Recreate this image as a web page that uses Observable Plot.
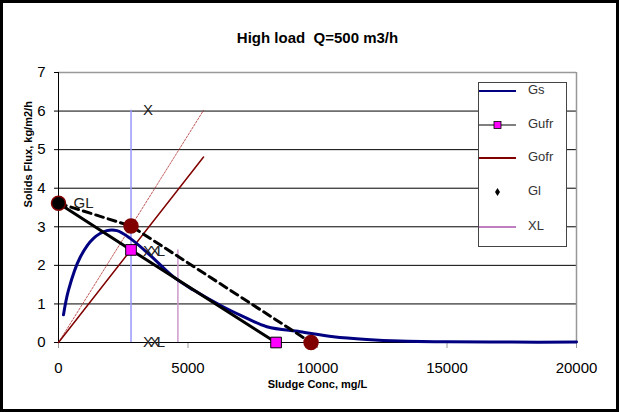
<!DOCTYPE html>
<html><head><meta charset="utf-8">
<script src="https://cdn.jsdelivr.net/npm/d3@7"></script>
<script src="https://cdn.jsdelivr.net/npm/@observablehq/plot@0.6"></script>
<style>
body{margin:0;background:#fff}
#wrap{position:relative;width:619px;height:412px;overflow:hidden;font-family:"Liberation Sans",Arial,sans-serif}
#wrap svg{position:absolute;left:0;top:0}
#frame{position:absolute;left:0;top:0;width:619px;height:412px;box-sizing:border-box;border:3px solid #000;pointer-events:none}
#legend{position:absolute;left:478px;top:82px;width:89px;height:165px;box-sizing:border-box;border:1px solid #444;background:#fff}
.li{position:absolute;left:0;height:16px;width:88px}
.li svg{position:absolute;left:6px;top:0}
.li span{position:absolute;left:49px;top:-1px;font-size:13px;color:#333}
</style></head>
<body><div id="wrap"></div>
<script>
// ---- data ----
const title = "High load  Q=500 m3/h";
const xLabel = "Sludge Conc, mg/L";
const yLabel = "Solids Flux, kg/m2/h";
const xTicks = [0, 5000, 10000, 15000, 20000];
const yTicks = [0, 1, 2, 3, 4, 5, 6, 7];
const gridY = [1, 2, 3, 4, 5, 6];

// Gs: settling flux curve
const gsX = [193, 386, 838, 1351, 1869, 2255, 2768, 3541, 4440, 5212, 6371, 7015, 8046, 9332, 10618, 11907, 13193, 15000, 17500, 20000];
const gsY = [0.72, 1.36, 2.21, 2.70, 2.90, 2.90, 2.70, 2.26, 1.70, 1.36, 0.92, 0.71, 0.41, 0.28, 0.15, 0.08, 0.04, 0.02, 0.01, 0.01];
// Gufr: underflow operating line
const gufrX = [0, 2800, 8400];
const gufrY = [3.61, 2.40, 0];
const gufrMarkX = [2800, 8400];
const gufrMarkY = [2.40, 0];
// Gofr: overflow line
const gofrX = [0, 5600];
const gofrY = [0, 4.81];
// dotted overflow line
const dotX = [0, 5600];
const dotY = [0, 6.02];
// dashed limiting line
const dashX = [0, 2800, 9750];
const dashY = [3.61, 3.02, 0];
const dashMarkX = [2800, 9750];
const dashMarkY = [3.02, 0];
// GL point
const glX = [0];
const glY = [3.61];
// X vertical line
const xLineX = 2800;
const xLineY = [0, 6.02];
// XL vertical line
const xlLineX = 4610;
const xlLineY = [0, 2.40];
// labels ("X" and "XL" overlap in the original; drawn squeezed as one text)
const labelX = [0, 2800, 2800, 2800];
const labelY = [3.61, 6.02, 2.38, 0];
const labelText = ["GL", "X", "XXL", "XXL"];
const labelDx = [15, 12, 12, 12];
const labelSqueeze = [0, 0, 22, 22];

const legendNames = ["Gs", "Gufr", "Gofr", "Gl", "XL"];

const pts = (xs, ys) => xs.map((x, i) => ({x, y: ys[i]}));

const plot = Plot.plot({
  width: 619, height: 412,
  marginLeft: 58, marginRight: 43, marginTop: 72, marginBottom: 70,
  style: {fontFamily: "'Liberation Sans', Arial, sans-serif", fontSize: "15px", background: "transparent", color: "#000"},
  x: {domain: [0, 20000]},
  y: {domain: [0, 7]},
  marks: [
    Plot.ruleY(gridY, {stroke: "#000", strokeWidth: 1}),
    Plot.ruleY([7], {stroke: "#999", strokeWidth: 1.5}),
    Plot.ruleX([20000], {stroke: "#999", strokeWidth: 1.5}),
    Plot.axisY({ticks: yTicks, tickSize: 4, tickPadding: 9, label: null, tickFormat: d => String(d)}),
    Plot.axisX({ticks: xTicks, tickSize: 6, tickPadding: 14, label: null, tickFormat: d => String(d), stroke: "#999"}),
    Plot.ruleY([0], {stroke: "#000", strokeWidth: 1}),
    Plot.ruleX([0], {stroke: "#000", strokeWidth: 1}),
    // vertical lines
    Plot.ruleX([xLineX], {y1: xLineY[0], y2: xLineY[1], stroke: "#9999ff", strokeWidth: 1.5}),
    Plot.ruleX([xlLineX], {y1: xlLineY[0], y2: xlLineY[1], stroke: "#cc99cc", strokeWidth: 1.5}),
    // dotted overflow line
    Plot.line(pts(dotX, dotY), {x: "x", y: "y", stroke: "#b03030", strokeWidth: 0.8, strokeDasharray: "2,1.5"}),
    // Gofr
    Plot.line(pts(gofrX, gofrY), {x: "x", y: "y", stroke: "#800000", strokeWidth: 1.5}),
    // Gs
    Plot.line(pts(gsX, gsY), {x: "x", y: "y", stroke: "#000080", strokeWidth: 3, curve: "catmull-rom"}),
    // Gufr
    Plot.line(pts(gufrX, gufrY), {x: "x", y: "y", stroke: "#000", strokeWidth: 3}),
    // dashed
    Plot.line(pts(dashX, dashY), {x: "x", y: "y", stroke: "#000", strokeWidth: 3, strokeDasharray: "8,5"}),
    Plot.dot(pts(gufrMarkX, gufrMarkY), {x: "x", y: "y", symbol: "square", r: 6, fill: "#ff00ff", stroke: "#000", strokeWidth: 1}),
    Plot.dot(pts(dashMarkX, dashMarkY), {x: "x", y: "y", r: 7, fill: "#800000", stroke: "#800000"}),
    Plot.dot(pts(glX, glY), {x: "x", y: "y", r: 7, fill: "#000", stroke: "#800000", strokeWidth: 1.5}),
    // labels
    Plot.text(labelText.map((t, i) => ({t, x: labelX[i], y: labelY[i]})), {
      x: "x", y: "y", text: "t", textAnchor: "start", fontSize: 15, fill: "#222",
      render(index, scales, values, dims, ctx, next) {
        const g = next(index, scales, values, dims, ctx);
        d3.select(g).selectAll("text").each(function(_, j) {
          const i = index[j];
          const el = d3.select(this);
          el.attr("transform", (el.attr("transform") || "") + ` translate(${labelDx[i]},0)`);
          if (labelSqueeze[i]) {
            el.attr("textLength", labelSqueeze[i]).attr("lengthAdjust", "spacing");
          }
        });
        return g;
      }
    }),
    // title and axis labels
    Plot.text([title], {frameAnchor: "top", dy: -40, fontSize: 15, fontWeight: "bold", fill: "#000"}),
    Plot.text([xLabel], {frameAnchor: "bottom", dy: 45, fontSize: 11, fontWeight: "bold", fill: "#000"}),
    Plot.text([yLabel], {frameAnchor: "left", dx: -30, rotate: -90, fontSize: 11, fontWeight: "bold", fill: "#000"})
  ]
});

const wrap = document.getElementById("wrap");
wrap.appendChild(plot);

// legend overlay
const legend = document.createElement("div");
legend.id = "legend";
const rowTops = [0, 33.7, 67, 101, 136];
const sample = {
  Gs: `<line x1="0" y1="8" x2="37" y2="8" stroke="#000080" stroke-width="2"/>`,
  Gufr: `<line x1="0" y1="8" x2="37" y2="8" stroke="#000" stroke-width="1"/><rect x="15" y="4.5" width="7" height="7" fill="#ff00ff" stroke="#000" stroke-width="0.8"/>`,
  Gofr: `<line x1="0" y1="8" x2="37" y2="8" stroke="#800000" stroke-width="2"/>`,
  Gl: `<path d="M18.5 4 L21 8 L18.5 12 L16 8 Z" fill="#000"/>`,
  XL: `<line x1="0" y1="8" x2="37" y2="8" stroke="#800080" stroke-width="1"/>`
};
legendNames.forEach((n, i) => {
  const row = document.createElement("div");
  row.className = "li";
  row.style.top = rowTops[i] + "px";
  row.innerHTML = `<svg width="38" height="16">${sample[n]}</svg><span>${n}</span>`;
  legend.appendChild(row);
});
wrap.appendChild(legend);
const frame = document.createElement("div");
frame.id = "frame";
wrap.appendChild(frame);
</script>
</body></html>
